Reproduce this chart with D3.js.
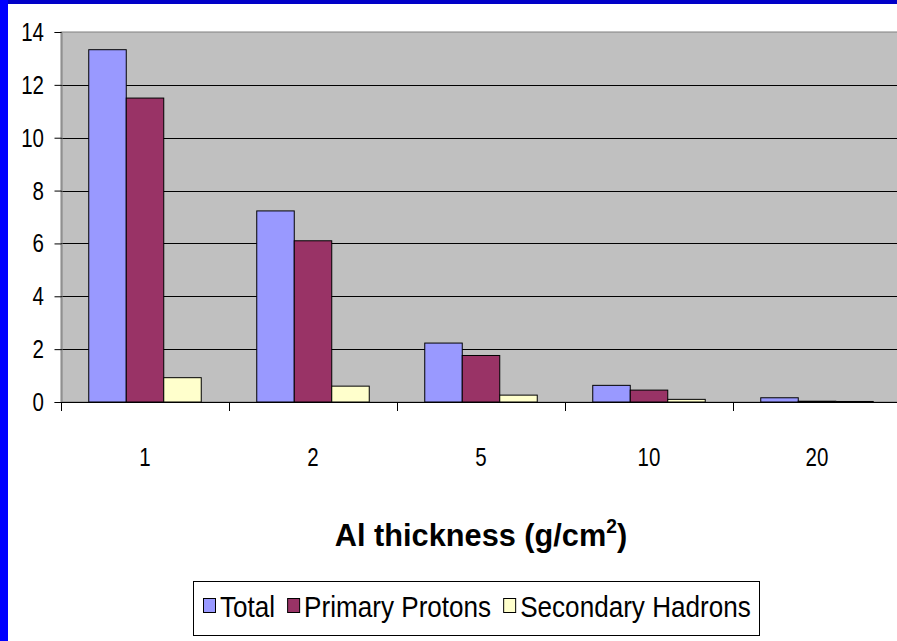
<!DOCTYPE html>
<html>
<head>
<meta charset="utf-8">
<script src="https://cdn.jsdelivr.net/npm/d3@7"></script>
<style>
  html, body { margin: 0; padding: 0; background: #fff; }
  svg { display: block; }
  text { font-family: "Liberation Sans", Arial, sans-serif; fill: #000; }
</style>
</head>
<body>
<svg id="chart" width="897" height="641"></svg>
<script>
// Aluminium thickness categories (g/cm^2)
const categories = ["1", "2", "5", "10", "20"];
const seriesNames = ["Total", "Primary Protons", "Secondary Hadrons"];
const totalValues = [13.33, 7.23, 2.23, 0.63, 0.16];
const primaryValues = [11.5, 6.1, 1.76, 0.45, 0.03];
const secondaryValues = [0.92, 0.6, 0.26, 0.1, 0.02];
const seriesColors = ["#9999ff", "#993366", "#ffffcc"];
const yTicks = [0, 2, 4, 6, 8, 10, 12, 14];

const series = [totalValues, primaryValues, secondaryValues];

const svg = d3.select("#chart");
const W = 897, H = 641;

// Horizontally condensed text helper
function condensed(sel, x, y, sx) {
  return sel.append("g").attr("transform", `translate(${x},${y}) scale(${sx},1)`).append("text");
}

// Frame
svg.append("rect").attr("x", 0).attr("y", 0).attr("width", W).attr("height", H).attr("fill", "#fff");
svg.append("rect").attr("x", 0).attr("y", 0).attr("width", W).attr("height", 4).attr("fill", "#0000c8");
svg.append("rect").attr("x", 0).attr("y", 0).attr("width", 8).attr("height", H).attr("fill", "#0000ff");

const plot = { left: 61, top: 32, right: 901, bottom: 402 };

const y = d3.scaleLinear().domain([0, 14]).range([plot.bottom, plot.top]);
const x = d3.scaleBand().domain(categories).range([plot.left, plot.right]).paddingInner(0).paddingOuter(0);
const bw = x.bandwidth();
const xSub = d3.scaleBand().domain(seriesNames).range([bw * 0.1652, bw * 0.8348]).padding(0);

// Plot area background
svg.append("rect")
  .attr("x", plot.left).attr("y", plot.top)
  .attr("width", plot.right - plot.left).attr("height", plot.bottom - plot.top)
  .attr("fill", "#c0c0c0").attr("stroke", "#808080").attr("stroke-width", 1);

// Horizontal gridlines
svg.append("g").selectAll("line")
  .data(yTicks.filter(d => d > 0 && d < 14))
  .join("line")
  .attr("x1", plot.left).attr("x2", plot.right)
  .attr("y1", d => Math.round(y(d)) + 0.5).attr("y2", d => Math.round(y(d)) + 0.5)
  .attr("stroke", "#000").attr("stroke-width", 1);

// Bars
const groups = svg.append("g").selectAll("g")
  .data(categories)
  .join("g")
  .attr("transform", d => `translate(${x(d)},0)`);

groups.selectAll("rect")
  .data((d, i) => seriesNames.map((s, j) => ({ s, v: series[j][i], c: seriesColors[j] })))
  .join("rect")
  .attr("x", d => xSub(d.s))
  .attr("y", d => y(d.v))
  .attr("width", xSub.bandwidth())
  .attr("height", d => y(0) - y(d.v))
  .attr("fill", d => d.c)
  .attr("stroke", "#000").attr("stroke-width", 1);

// Y axis
const yAxis = d3.axisLeft(y).tickValues(yTicks).tickSize(7).tickFormat("");
const gy = svg.append("g").attr("transform", `translate(${plot.left + 0.5},0)`).call(yAxis);
gy.select(".domain").attr("stroke", "#808080");
gy.selectAll(".tick line").attr("stroke", "#000");
yTicks.forEach(t => {
  condensed(svg, 44, y(t) + 9, 0.82)
    .attr("text-anchor", "end").attr("font-size", 25).text(d3.format("d")(t));
});

// X axis
const xEdges = d3.scaleLinear().domain([0, categories.length]).range([plot.left, plot.right]);
const gx = svg.append("g");
gx.append("line")
  .attr("x1", plot.left).attr("x2", plot.right)
  .attr("y1", plot.bottom + 0.5).attr("y2", plot.bottom + 0.5)
  .attr("stroke", "#000");
gx.selectAll("line.tk")
  .data(d3.range(categories.length + 1))
  .join("line").attr("class", "tk")
  .attr("x1", d => Math.round(xEdges(d)) + 0.5).attr("x2", d => Math.round(xEdges(d)) + 0.5)
  .attr("y1", plot.bottom).attr("y2", plot.bottom + 9)
  .attr("stroke", "#000");
categories.forEach(c => {
  condensed(gx, x(c) + bw / 2, 466, 0.82)
    .attr("text-anchor", "middle").attr("font-size", 25).text(c);
});

// Axis title
const title = condensed(svg, 481, 546, 0.96)
  .attr("text-anchor", "middle")
  .attr("font-size", 32).attr("font-weight", "bold");
title.append("tspan").text("Al thickness (g/cm");
title.append("tspan").attr("font-size", 20).attr("dy", -13).text("2");
title.append("tspan").attr("dy", 13).text(")");

// Legend: swatch + label items laid out left to right
const legend = svg.append("g");
legend.append("rect")
  .attr("x", 193.5).attr("y", 581.5).attr("width", 566).attr("height", 54)
  .attr("fill", "#fff").attr("stroke", "#000").attr("stroke-width", 1);
const legendScale = 0.9;
let cursor = 203;
seriesNames.forEach((s, i) => {
  legend.append("rect")
    .attr("x", cursor + 0.5).attr("y", 598.5).attr("width", 12).attr("height", 14)
    .attr("fill", seriesColors[i]).attr("stroke", "#000");
  const t = condensed(legend, cursor + 17, 617, legendScale)
    .attr("font-size", 29)
    .text(s);
  cursor += 17 + t.node().getComputedTextLength() * legendScale + 12;
});
</script>
</body>
</html>
